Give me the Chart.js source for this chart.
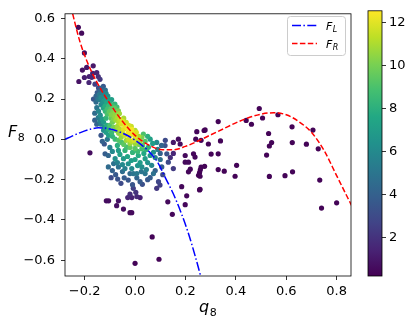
<!DOCTYPE html>
<html lang="en">
<head>
  <meta charset="UTF-8">
  <title>F8 against q8</title>
  <script src="https://cdn.jsdelivr.net/npm/chart.js@4"></script>
  <style>
    body { margin: 0; background: #fff; }
    #wrap { position: relative; width: 415px; height: 327px; }
    #wrap canvas { position: absolute; left: 0; top: 0; }
  </style>
</head>
<body>
  <div id="wrap">
    <canvas id="chart" width="415" height="327"></canvas>
    <canvas id="cbar" width="415" height="327"></canvas>
  </div>
  <script>
    // axes
    const xMin = -0.278, xMax = 0.857;
    const yMin = -0.678, yMax = 0.623;
    const xTicks = [-0.2, 0.0, 0.2, 0.4, 0.6, 0.8];
    const yTicks = [-0.6, -0.4, -0.2, 0.0, 0.2, 0.4, 0.6];
    const cbMin = 0.19, cbMax = 12.55;
    const cbTicks = [2, 4, 6, 8, 10, 12];

    // curves
    const leftQ = [-0.278, -0.25, -0.212, -0.175, -0.146, -0.12, -0.09, -0.06, -0.03, 0.0, 0.03, 0.06, 0.09, 0.12, 0.15, 0.18, 0.21, 0.24, 0.265];
    const leftF = [0.0, 0.016, 0.036, 0.051, 0.057, 0.056, 0.049, 0.036, 0.019, -0.004, -0.032, -0.066, -0.115, -0.19, -0.265, -0.355, -0.46, -0.585, -0.7];
    const rightQ = [-0.255, -0.22, -0.19, -0.15, -0.1, -0.05, 0.0, 0.05, 0.1, 0.15, 0.2, 0.25, 0.3, 0.35, 0.4, 0.45, 0.5, 0.55, 0.6, 0.65, 0.7, 0.75, 0.8, 0.86];
    const rightF = [0.66, 0.49, 0.385, 0.28, 0.178, 0.09, 0.02, -0.025, -0.05, -0.052, -0.035, -0.008, 0.022, 0.052, 0.082, 0.107, 0.125, 0.132, 0.122, 0.088, 0.035, -0.055, -0.18, -0.33];

    // samples [q, F, colour value]
    const tailSamples = [
      [-0.225, 0.556, 0.5], [-0.212, 0.527, 0.5], [-0.201, 0.429, 0.7], [-0.166, 0.365, 1.0],
      [-0.192, 0.357, 0.9], [-0.209, 0.344, 0.8], [-0.201, 0.307, 1.2], [-0.223, 0.287, 0.8],
      [-0.183, 0.282, 1.5], [-0.152, 0.331, 1.4], [-0.146, 0.312, 1.8], [-0.172, 0.308, 1.6],
      [-0.139, 0.298, 2.2], [-0.159, 0.274, 2.5], [-0.182, 0.312, 1.3], [-0.168, 0.328, 1.3],
      [-0.132, 0.254, 4.0], [-0.126, 0.263, 3.6], [-0.145, 0.255, 3.2], [-0.138, 0.240, 4.5],
      [-0.125, 0.238, 5.0], [-0.150, 0.232, 3.8], [-0.118, 0.245, 4.6], [-0.142, 0.222, 5.2],
      [-0.130, 0.225, 5.5], [-0.115, 0.228, 5.8], [-0.155, 0.215, 4.2], [-0.120, 0.212, 6.2],
      [-0.135, 0.208, 6.0], [-0.148, 0.200, 5.0], [-0.108, 0.215, 6.3]
    ];
    const bandSamples = [
      [-0.139, 0.197, 5.5], [-0.119, 0.195, 6.8], [-0.105, 0.198, 7.0], [-0.093, 0.197, 7.2],
      [-0.128, 0.185, 6.5], [-0.112, 0.182, 7.5], [-0.098, 0.178, 8.0], [-0.135, 0.172, 6.0],
      [-0.119, 0.165, 7.8], [-0.105, 0.165, 8.5], [-0.090, 0.168, 8.8], [-0.080, 0.175, 8.2],
      [-0.126, 0.155, 7.2], [-0.110, 0.150, 8.8], [-0.095, 0.152, 9.3], [-0.082, 0.155, 9.5],
      [-0.072, 0.160, 8.8], [-0.118, 0.140, 8.3], [-0.102, 0.138, 9.5], [-0.088, 0.138, 10.0],
      [-0.079, 0.132, 10.4], [-0.066, 0.142, 10.0], [-0.110, 0.125, 9.0], [-0.095, 0.122, 10.2],
      [-0.062, 0.128, 10.8],
      [-0.152, 0.157, 5.0], [-0.146, 0.108, 5.3], [-0.152, 0.075, 4.2], [-0.160, 0.130, 4.5],
      [-0.145, 0.140, 5.8], [-0.138, 0.120, 6.2], [-0.140, 0.090, 5.5], [-0.130, 0.100, 6.8],
      [-0.155, 0.185, 4.5], [-0.165, 0.200, 3.5], [-0.160, 0.095, 4.0], [-0.135, 0.075, 5.5],
      [-0.125, 0.085, 6.8], [-0.122, 0.060, 6.5], [-0.112, 0.070, 7.8], [-0.115, 0.105, 8.2],
      [-0.125, 0.045, 6.0]
    ];
    const coreSamples = [
      [-0.060, 0.099, 11.5], [-0.040, 0.067, 12.2], [-0.027, 0.034, 12.3], [-0.013, 0.050, 12.4],
      [-0.070, 0.110, 11.0], [-0.050, 0.090, 12.0], [-0.055, 0.075, 11.8], [-0.045, 0.050, 12.0],
      [-0.035, 0.085, 11.6], [-0.030, 0.055, 12.4], [-0.020, 0.020, 12.3], [-0.010, 0.030, 12.2],
      [0.000, 0.015, 12.0], [-0.005, -0.005, 11.8], [0.010, 0.000, 11.5], [-0.065, 0.085, 11.2],
      [-0.075, 0.095, 10.8], [-0.080, 0.115, 10.5], [-0.085, 0.100, 10.2], [-0.070, 0.065, 10.9],
      [-0.060, 0.050, 11.2], [-0.050, 0.030, 11.4], [-0.040, 0.020, 11.6], [-0.025, 0.000, 11.5],
      [-0.015, -0.010, 11.3], [0.005, 0.035, 11.8], [0.015, 0.015, 11.0], [0.020, -0.010, 10.8],
      [-0.045, 0.105, 11.0], [-0.025, 0.070, 11.8], [-0.015, 0.065, 11.5], [0.000, 0.045, 11.0],
      [-0.090, 0.085, 9.8], [-0.095, 0.105, 9.6], [-0.100, 0.070, 9.0], [-0.085, 0.060, 10.0],
      [-0.075, 0.045, 10.3], [-0.065, 0.030, 10.5], [-0.055, 0.010, 10.6], [-0.035, -0.005, 10.8],
      [-0.020, -0.020, 10.6], [0.000, -0.020, 10.7], [0.015, -0.025, 10.0], [0.027, 0.010, 10.0],
      [0.033, 0.026, 9.0]
    ];
    const lowerSamples = [
      [-0.093, 0.034, 8.5], [-0.079, 0.001, 8.6], [-0.053, -0.015, 9.0], [-0.033, -0.039, 8.8],
      [0.027, -0.047, 8.8], [0.013, -0.080, 7.8], [0.053, -0.039, 8.0], [0.040, -0.010, 9.2],
      [-0.105, 0.050, 8.0], [-0.090, 0.015, 8.2], [-0.065, -0.005, 9.2], [-0.045, -0.025, 9.4],
      [-0.020, -0.040, 9.5], [0.000, -0.045, 9.3], [0.010, -0.060, 8.6], [0.030, -0.030, 9.4],
      [0.045, -0.050, 8.2], [-0.070, -0.030, 8.0], [-0.040, -0.055, 8.2], [-0.010, -0.065, 8.3],
      [0.060, 0.001, 7.2], [0.050, 0.015, 8.0], [0.070, -0.020, 7.0], [-0.105, 0.020, 7.2],
      [-0.115, 0.035, 7.0],
      [-0.066, -0.055, 7.0], [-0.079, -0.096, 6.3], [-0.046, -0.096, 6.8], [-0.027, -0.121, 6.4],
      [-0.013, -0.145, 6.0], [0.040, -0.096, 7.0], [0.066, -0.129, 5.8], [0.027, -0.137, 6.2],
      [0.073, -0.064, 6.5], [0.086, -0.015, 6.0], [0.060, -0.080, 6.8], [-0.090, -0.060, 6.0],
      [-0.060, -0.075, 7.2], [-0.030, -0.085, 7.4], [0.000, -0.100, 7.3], [0.020, -0.115, 6.9],
      [0.050, -0.115, 6.4], [-0.050, -0.125, 6.0], [-0.070, -0.115, 5.6], [0.010, -0.130, 6.6],
      [-0.040, -0.145, 5.5], [0.045, -0.150, 5.6], [0.090, -0.050, 5.5], [0.080, -0.090, 5.6],
      [-0.100, -0.040, 5.4], [0.100, -0.100, 4.8], [-0.015, -0.105, 7.0], [0.035, -0.070, 7.6],
      [0.007, -0.170, 5.2], [0.040, -0.170, 5.0], [0.073, -0.170, 4.8], [-0.007, -0.170, 5.0],
      [-0.122, -0.023, 3.5], [-0.119, -0.072, 3.8], [-0.106, -0.080, 4.2], [-0.106, -0.137, 4.5],
      [-0.066, -0.137, 4.8], [0.119, -0.031, 3.3], [0.126, -0.072, 3.4], [0.132, -0.113, 3.0],
      [0.152, -0.145, 2.3], [0.106, -0.137, 3.8], [-0.077, -0.175, 3.6], [-0.069, -0.197, 3.3],
      [-0.056, -0.218, 3.0], [-0.043, -0.191, 3.8], [-0.027, -0.202, 3.5], [0.007, -0.191, 4.2],
      [0.029, -0.223, 3.2], [0.020, -0.210, 3.7], [0.093, -0.210, 2.8], [0.099, -0.227, 2.5],
      [0.086, -0.243, 2.2], [-0.090, -0.155, 4.0], [-0.085, -0.120, 4.8], [-0.020, -0.170, 4.5],
      [0.060, -0.190, 3.8], [0.080, -0.155, 4.0], [0.110, -0.175, 3.0], [-0.050, -0.160, 4.6],
      [0.025, -0.160, 5.0], [-0.095, -0.190, 3.0], [0.050, -0.200, 3.6], [-0.010, -0.225, 3.5],
      [0.100, -0.070, 4.0], [0.105, -0.030, 4.2], [0.120, -0.005, 3.0], [-0.135, 0.020, 3.5],
      [-0.130, -0.010, 4.0], [-0.110, 0.000, 5.0]
    ];
    const sparseSamples = [
      [-0.007, -0.243, 2.5], [0.003, -0.263, 2.0], [-0.020, -0.272, 1.8], [-0.029, -0.289, 1.5],
      [0.007, -0.284, 1.6], [-0.013, -0.289, 1.4], [0.020, -0.289, 1.3], [-0.114, -0.305, 0.6],
      [-0.105, -0.305, 0.6], [-0.066, -0.305, 0.8], [-0.073, -0.329, 0.7], [-0.046, -0.346, 0.6],
      [-0.020, -0.364, 0.5], [-0.013, -0.364, 0.5], [-0.179, -0.067, 0.6], [0.152, -0.015, 1.0],
      [0.172, 0.001, 0.6], [0.179, -0.023, 0.6], [0.185, -0.235, 0.4], [0.205, -0.280, 0.4],
      [0.130, -0.310, 0.5], [0.199, -0.324, 0.4], [0.148, -0.372, 0.4], [0.068, -0.484, 0.3],
      [0.095, -0.595, 0.3], [0.000, -0.615, 0.3], [0.256, -0.251, 0.3], [0.262, -0.138, 0.3],
      [0.259, -0.151, 0.3], [0.256, -0.165, 0.3], [0.252, -0.178, 0.3], [0.212, -0.161, 0.4],
      [0.245, 0.038, 0.4], [0.241, 0.001, 0.4], [0.278, 0.047, 0.3], [0.199, -0.080, 0.5],
      [0.232, -0.072, 0.4], [0.238, -0.088, 0.4], [0.199, -0.113, 0.5], [0.212, -0.113, 0.5],
      [0.219, -0.148, 0.4], [0.152, -0.070, 1.5], [0.140, -0.090, 1.8],
      [0.493, 0.153, 0.3], [0.506, 0.106, 0.3], [0.567, 0.122, 0.3], [0.441, 0.094, 0.3],
      [0.462, 0.075, 0.3], [0.330, 0.088, 0.3], [0.274, 0.044, 0.3], [0.262, -0.005, 0.3],
      [0.291, -0.023, 0.3], [0.339, -0.008, 0.3], [0.302, -0.073, 0.3], [0.330, -0.072, 0.3],
      [0.276, -0.134, 0.3], [0.258, -0.183, 0.3], [0.258, -0.248, 0.3], [0.330, -0.150, 0.3],
      [0.354, -0.158, 0.3], [0.403, -0.129, 0.3], [0.397, -0.183, 0.3], [0.530, 0.029, 0.3],
      [0.542, -0.016, 0.3], [0.533, -0.033, 0.3], [0.522, -0.078, 0.3], [0.533, -0.184, 0.3],
      [0.595, -0.180, 0.3], [0.625, -0.161, 0.3], [0.623, 0.062, 0.3], [0.624, -0.016, 0.3],
      [0.680, -0.024, 0.3], [0.706, 0.046, 0.3], [0.727, -0.047, 0.3], [0.733, -0.202, 0.3],
      [0.740, -0.341, 0.3], [0.800, -0.315, 0.3]
    ];

    // viridis
    const viridisStops = ['#440154', '#482475', '#414487', '#355f8d', '#2a788e', '#21918c',
                          '#22a884', '#44bf70', '#7ad151', '#bddf26', '#fde725'];
    function hexRgb(h) {
      return [parseInt(h.slice(1, 3), 16), parseInt(h.slice(3, 5), 16), parseInt(h.slice(5, 7), 16)];
    }
    function viridis(t) {
      t = Math.min(1, Math.max(0, t));
      const s = t * (viridisStops.length - 1);
      const i = Math.min(Math.floor(s), viridisStops.length - 2);
      const f = s - i;
      const a = hexRgb(viridisStops[i]), b = hexRgb(viridisStops[i + 1]);
      const c = a.map((v, k) => Math.round(v + (b[k] - v) * f));
      return `rgb(${c[0]},${c[1]},${c[2]})`;
    }

    const samples = [...tailSamples, ...bandSamples, ...coreSamples, ...lowerSamples, ...sparseSamples]
      .sort((a, b) => a[2] - b[2]);

    const FONT = '"DejaVu Sans", sans-serif';
    Chart.defaults.font.family = FONT;
    Chart.defaults.font.size = 13;
    Chart.defaults.color = '#000';

    const fmt = v => (v < -1e-9 ? '\u2212' : '') + Math.abs(v).toFixed(1);

    const framePlugin = {
      id: 'frame',
      afterDatasetsDraw(chart) {
        const { ctx, chartArea: a } = chart;
        ctx.save();
        ctx.strokeStyle = '#000';
        ctx.lineWidth = 0.8;
        ctx.strokeRect(a.left, a.top, a.right - a.left, a.bottom - a.top);
        ctx.restore();
      }
    };

    // text with a subscript, mathtext style
    function subText(ctx, x, y, main, sub, size, subItalic) {
      ctx.font = `italic ${size}px ${FONT}`;
      ctx.fillText(main, x, y);
      const w = ctx.measureText(main).width;
      ctx.font = `${subItalic ? 'italic ' : ''}${Math.round(size * 0.7)}px ${FONT}`;
      ctx.fillText(sub, x + w + 0.5, y + size * 0.22);
    }

    const labelsPlugin = {
      id: 'labels',
      afterDraw(chart) {
        const { ctx, chartArea: a } = chart;
        ctx.save();
        ctx.fillStyle = '#000';
        ctx.textBaseline = 'alphabetic';
        subText(ctx, 8, 137, 'F', '8', 16, false);
        subText(ctx, (a.left + a.right) / 2 - 9, 312, 'q', '8', 16, false);

        // legend
        const bx = 287, by = 16, bw = 58, bh = 39;
        ctx.beginPath();
        ctx.roundRect(bx + 0.5, by + 0.5, bw, bh, 3);
        ctx.fillStyle = 'rgba(255,255,255,0.8)';
        ctx.fill();
        ctx.strokeStyle = '#cccccc';
        ctx.lineWidth = 1;
        ctx.stroke();
        const rows = [
          { color: '#0000ff', dash: [9, 2.4, 1.5, 2.4], sub: 'L', y: 25.5 },
          { color: '#ff0000', dash: [5.5, 2.4], sub: 'R', y: 43.5 }
        ];
        rows.forEach(r => {
          ctx.beginPath();
          ctx.setLineDash(r.dash);
          ctx.strokeStyle = r.color;
          ctx.lineWidth = 1.5;
          ctx.moveTo(292, r.y);
          ctx.lineTo(317, r.y);
          ctx.stroke();
          ctx.setLineDash([]);
          ctx.fillStyle = '#000';
          subText(ctx, 326, r.y + 4, 'F', r.sub, 11, true);
        });
        ctx.restore();
      }
    };

    new Chart(document.getElementById('chart'), {
      type: 'scatter',
      data: {
        datasets: [
          {
            label: 'F_L',
            data: leftQ.map((q, i) => ({ x: q, y: leftF[i] })),
            showLine: true,
            borderColor: '#0000ff',
            borderWidth: 1.5,
            borderDash: [9, 2.4, 1.5, 2.4],
            pointRadius: 0,
            cubicInterpolationMode: 'monotone',
            order: 0
          },
          {
            label: 'F_R',
            data: rightQ.map((q, i) => ({ x: q, y: rightF[i] })),
            showLine: true,
            borderColor: '#ff0000',
            borderWidth: 1.5,
            borderDash: [5.5, 2.4],
            pointRadius: 0,
            cubicInterpolationMode: 'monotone',
            order: 0
          },
          {
            label: 'samples',
            data: samples.map(s => ({ x: s[0], y: s[1] })),
            pointRadius: 2.6,
            pointBorderWidth: 0,
            pointBackgroundColor: samples.map(s => viridis((s[2] - cbMin) / (cbMax - cbMin))),
            order: 1
          }
        ]
      },
      options: {
        responsive: false,
        animation: false,
        devicePixelRatio: 1,
        layout: { padding: { left: 0, top: 10, right: 64, bottom: 0 } },
        plugins: { legend: { display: false }, tooltip: { enabled: false } },
        scales: {
          x: {
            type: 'linear', min: xMin, max: xMax,
            afterBuildTicks: s => { s.ticks = xTicks.map(v => ({ value: v })); },
            afterFit: s => { s.height = 51; },
            grid: { drawOnChartArea: false, tickLength: 4, color: '#000', lineWidth: 0.8 },
            border: { display: false },
            ticks: { padding: 4, maxRotation: 0, callback: fmt }
          },
          y: {
            type: 'linear', min: yMin, max: yMax,
            afterBuildTicks: s => { s.ticks = yTicks.map(v => ({ value: v })); },
            afterFit: s => { s.width = 65; },
            grid: { drawOnChartArea: false, tickLength: 4, color: '#000', lineWidth: 0.8 },
            border: { display: false },
            ticks: { padding: 6, callback: fmt }
          }
        }
      },
      plugins: [framePlugin, labelsPlugin]
    });

    // colour bar
    new Chart(document.getElementById('cbar'), {
      type: 'bar',
      data: {
        labels: [''],
        datasets: [{
          data: [[cbMin, cbMax]],
          backgroundColor: c => {
            const a = c.chart.chartArea;
            if (!a) return viridisStops[0];
            const g = c.chart.ctx.createLinearGradient(0, a.bottom, 0, a.top);
            viridisStops.forEach((s, i) => g.addColorStop(i / (viridisStops.length - 1), s));
            return g;
          },
          borderWidth: 0,
          barPercentage: 1,
          categoryPercentage: 1
        }]
      },
      options: {
        responsive: false,
        animation: false,
        devicePixelRatio: 1,
        layout: { padding: { left: 368, top: 10, right: 0, bottom: 51 } },
        plugins: { legend: { display: false }, tooltip: { enabled: false } },
        scales: {
          x: { display: false },
          y: {
            position: 'right', min: cbMin, max: cbMax,
            afterBuildTicks: s => { s.ticks = cbTicks.map(v => ({ value: v })); },
            afterFit: s => { s.width = 33; },
            grid: { drawOnChartArea: false, tickLength: 4, color: '#000', lineWidth: 0.8 },
            border: { display: false },
            ticks: { padding: 3, callback: v => String(v) }
          }
        }
      },
      plugins: [framePlugin]
    });
  </script>
</body>
</html>
